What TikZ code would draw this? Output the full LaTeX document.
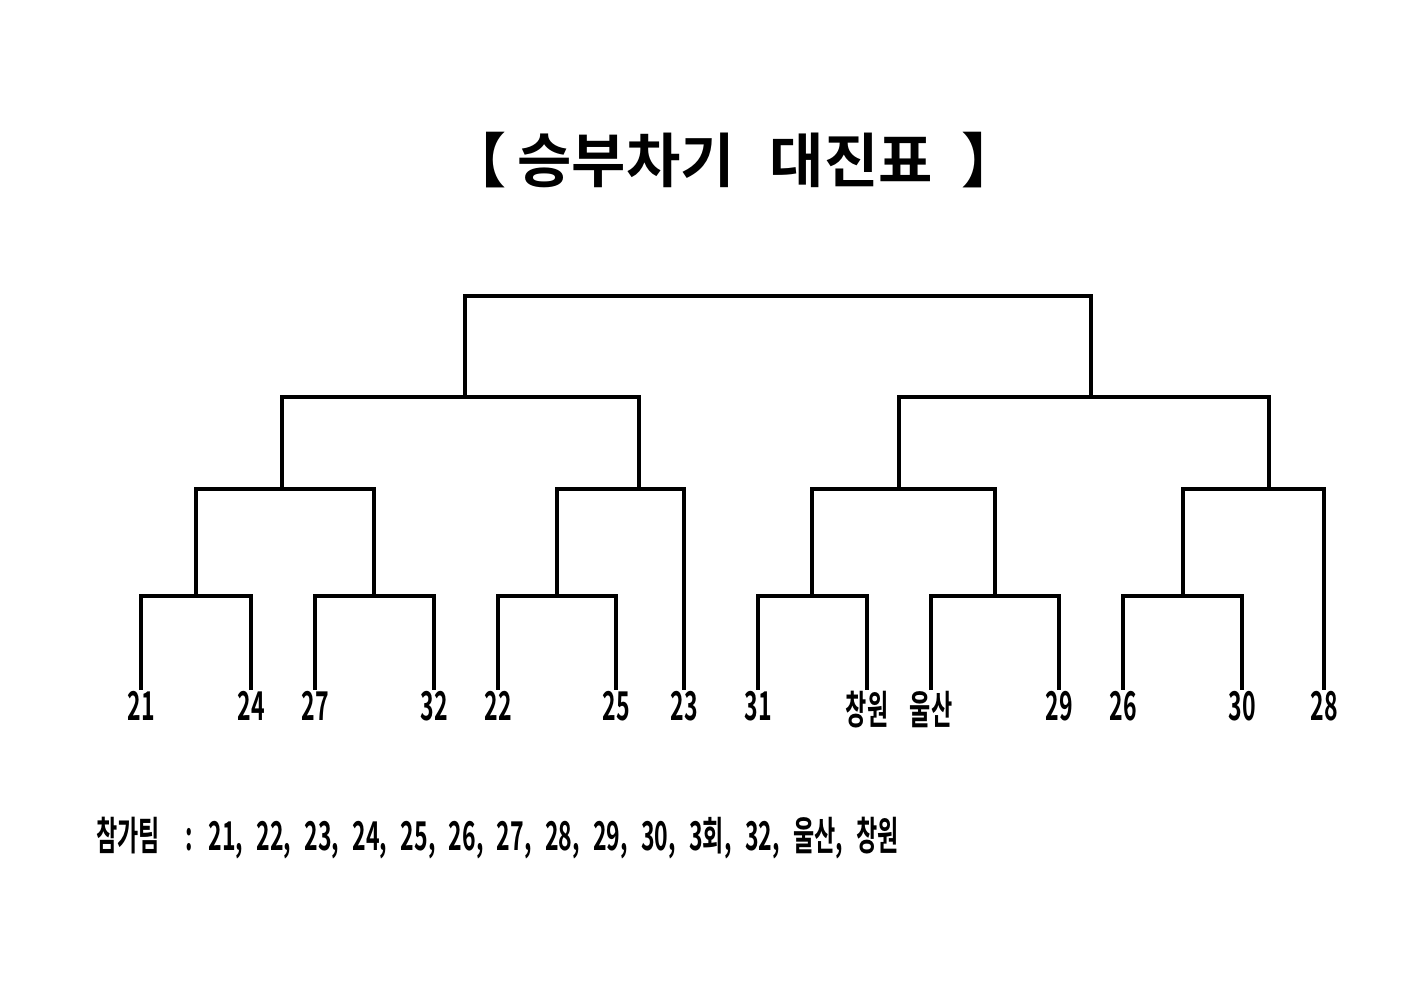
\documentclass[tikz,border=0pt]{standalone}
\usepackage{fontspec}
\usepackage{tikz}
\usetikzlibrary{positioning}
\newfontfamily\krtitle{Noto Sans CJK KR Bold}
\newfontfamily\krnarrow[FakeStretch=0.58]{Noto Sans CJK KR Bold}
\newfontfamily\krnote[FakeStretch=0.58,WordSpace=1.6]{Noto Sans CJK KR Bold}

\begin{document}
\begin{tikzpicture}[x=0.01cm,y=-0.01cm,line width=0.9pt,
  team/.style={font=\krnarrow\fontsize{11.3}{13}\selectfont,inner sep=0pt},
  title node/.style={font=\krtitle\fontsize{16.8}{19}\selectfont,inner sep=0pt},
  note node/.style={font=\krnote\fontsize{11.3}{13}\selectfont,inner sep=0pt,anchor=west}]
  \useasboundingbox (0,0) rectangle (1403,992);

  \node[title node] (title) at (734,160) {【\hspace{3pt}승부차기\hspace{10pt}대진표\hspace{8pt}】};

  % leaf tops
  \coordinate (t21) at (141,690);
  \coordinate (t24) at (251,690);
  \coordinate (t27) at (315,690);
  \coordinate (t32) at (434,690);
  \coordinate (t22) at (498,690);
  \coordinate (t25) at (616,690);
  \coordinate (t23) at (684,690);
  \coordinate (t31) at (758,690);
  \coordinate (tcw) at (867,690);
  \coordinate (tus) at (931,690);
  \coordinate (t29) at (1059,690);
  \coordinate (t26) at (1123,690);
  \coordinate (t30) at (1242,690);
  \coordinate (t28) at (1324,690);

  \node[team] (n21) [below=0pt of t21] {21};
  \node[team] (n24) [below=0pt of t24] {24};
  \node[team] (n27) [below=0pt of t27] {27};
  \node[team] (n32) [below=0pt of t32] {32};
  \node[team] (n22) [below=0pt of t22] {22};
  \node[team] (n25) [below=0pt of t25] {25};
  \node[team] (n23) [below=0pt of t23] {23};
  \node[team] (n31) [below=0pt of t31] {31};
  \node[team] (ncw) [below=0pt of tcw] {창원};
  \node[team] (nus) [below=0pt of tus] {울산};
  \node[team] (n29) [below=0pt of t29] {29};
  \node[team] (n26) [below=0pt of t26] {26};
  \node[team] (n30) [below=0pt of t30] {30};
  \node[team] (n28) [below=0pt of t28] {28};

  % joins
  \coordinate (a1) at (196,596);
  \coordinate (a2) at (374,596);
  \coordinate (a3) at (557,596);
  \coordinate (a4) at (812,596);
  \coordinate (a5) at (995,596);
  \coordinate (a6) at (1183,596);
  \coordinate (b1) at (282,489);
  \coordinate (b2) at (639,489);
  \coordinate (b3) at (899,489);
  \coordinate (b4) at (1269,489);
  \coordinate (c1) at (465,397);
  \coordinate (c2) at (1091,397);
  \coordinate (d)  at (778,296);

  \draw (t21) |- (a1) -| (t24);
  \draw (t27) |- (a2) -| (t32);
  \draw (t22) |- (a3) -| (t25);
  \draw (t31) |- (a4) -| (tcw);
  \draw (tus) |- (a5) -| (t29);
  \draw (t26) |- (a6) -| (t30);
  \draw (a1) |- (b1) -| (a2);
  \draw (a3) |- (b2) -| (t23);
  \draw (a4) |- (b3) -| (a5);
  \draw (a6) |- (b4) -| (t28);
  \draw (b1) |- (c1) -| (b2);
  \draw (b3) |- (c2) -| (b4);
  \draw (c1) |- (d) -| (c2);

  \node[note node] (note) at (95,838) {참가팀\hspace{3.5pt} : 21, 22, 23, 24, 25, 26, 27, 28, 29, 30, 3회, 32, 울산, 창원};
\end{tikzpicture}
\end{document}
